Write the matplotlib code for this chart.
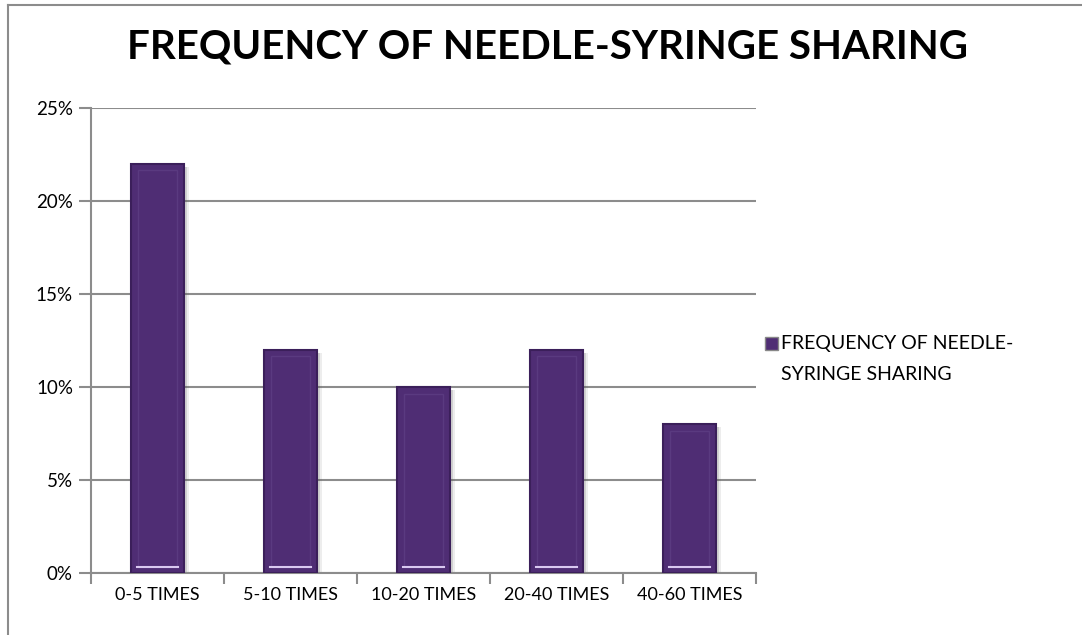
import numpy as np
import matplotlib
matplotlib.use('Agg')
from matplotlib import pyplot as plt
from matplotlib.patches import Rectangle
from matplotlib.lines import Line2D

categories = ['0-5 TIMES', '5-10 TIMES', '10-20 TIMES', '20-40 TIMES', '40-60 TIMES']
values = [22, 12, 10, 12, 8]
series_name = ['FREQUENCY OF NEEDLE-', 'SYRINGE SHARING']
title = 'FREQUENCY OF NEEDLE-SYRINGE SHARING'

plt.rcParams['font.family'] = ['Lato', 'DejaVu Sans']

bar_col = '#4f2d74'
edge_col = '#3b1f5a'
grid_col = '#8c8c8c'

W, H = 1082, 635
fig = plt.figure(figsize=(W / 100, H / 100), dpi=100)
ax = fig.add_axes([0.0841, 0.0976, 0.6146, 0.7323])

x = np.arange(len(categories))
w = 0.4

# soft shadow behind bars
for dx, a in [(0.025, 0.18), (0.04, 0.10)]:
    ax.bar(x + dx, values, width=w, bottom=-0.15, color='#555555', alpha=a, zorder=2, linewidth=0)

ax.bar(x, values, width=w, color=bar_col, edgecolor=edge_col, linewidth=1.5, zorder=3)
# inner bevel frame
ax.bar(x, [v - 0.7 for v in values], width=w * 0.72, bottom=0.35, color='none',
       edgecolor='#5a3a80', linewidth=1.0, zorder=4)
# bottom highlight line
for xi in x:
    ax.plot([xi - w * 0.38, xi + w * 0.38], [0.3, 0.3], color='#d9c8f0', lw=1.5, zorder=5)

ax.set_xlim(-0.5, len(categories) - 0.5)
ax.set_ylim(0, 25)
ax.set_yticks(np.arange(0, 26, 5))
ax.set_yticklabels(['%d%%' % v for v in range(0, 26, 5)])
ax.set_xticks(x)
ax.set_xticklabels(categories)
ax.tick_params(axis='x', length=0, pad=10, labelsize=13)
ax.tick_params(axis='y', length=9, color=grid_col, width=1.5, pad=4, labelsize=13.5)
# category boundary ticks
ax.set_xticks(np.arange(-0.5, len(categories)), minor=True)
ax.tick_params(axis='x', which='minor', length=8, color=grid_col, width=1.5, direction='out')

ax.grid(axis='y', color=grid_col, linewidth=1.5, zorder=0)
ax.set_axisbelow(True)
for s in ['top', 'right']:
    ax.spines[s].set_visible(False)
for s in ['left', 'bottom']:
    ax.spines[s].set_color(grid_col)
    ax.spines[s].set_linewidth(1.5)

fig.text(0.506, 0.926, title, ha='center', va='center', fontsize=29, fontweight='bold')

# legend, drawn by hand to get the Excel layout
fig.add_artist(Rectangle((765 / W, 1 - 350 / H), 13 / W, 13 / H, facecolor=bar_col,
                         edgecolor='#888888', linewidth=1, transform=fig.transFigure))
for i, line in enumerate(series_name):
    fig.text(781 / W, 1 - (344 + 30 * i) / H, line, ha='left', va='center', fontsize=14)

# outer chart border
fig.add_artist(Line2D([8 / W, 8 / W], [0, 1 - 5 / H], color='#8c8c8c', lw=1.5, transform=fig.transFigure))
fig.add_artist(Line2D([8 / W, 1], [1 - 5 / H, 1 - 5 / H], color='#8c8c8c', lw=1.5, transform=fig.transFigure))

fig.savefig('out.png', dpi=100)
